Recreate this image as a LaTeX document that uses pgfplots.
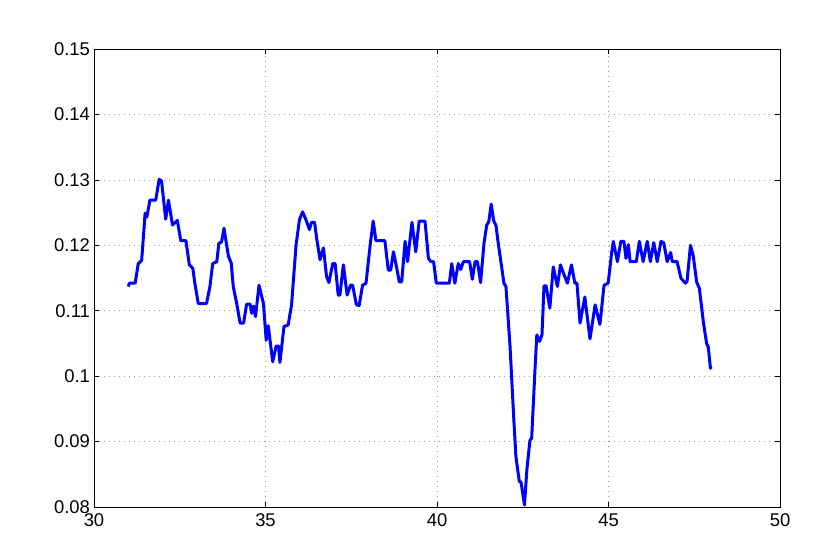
\documentclass[border=0pt]{standalone}
\usepackage{pgfplots}
\pgfplotsset{compat=1.18}
\usepackage{fontspec}
\setmainfont{Liberation Sans}
\begin{document}
\begin{tikzpicture}
\useasboundingbox (0,0) rectangle (831bp,554bp);
\begin{axis}[
  at={(94bp,47bp)}, anchor=south west,
  scale only axis, width=686bp, height=458bp,
  xmin=30, xmax=50, ymin=0.08, ymax=0.15,
  xtick={30,35,40,45,50},
  ytick={0.08,0.09,0.1,0.11,0.12,0.13,0.14,0.15},
  scaled y ticks=false,
  yticklabel style={/pgf/number format/fixed,/pgf/number format/precision=2},
  tick align=inside,
  major tick length=5bp,
  tick style={black, line width=0.6bp},
  axis line style={black, line width=0.7bp},
  grid=major,
  major grid style={gray!80, line width=0.5bp, dash pattern=on 1bp off 4bp},
  /pgf/number format/assume math mode=true,
  tick label style={font=\fontsize{18.5}{20}\selectfont},
  xticklabel style={yshift=-3bp},
  yticklabel style={xshift=-0.5bp},
]
\addplot[color={rgb,1:red,0;green,0;blue,1}, line width=3bp, line join=round, no marks] coordinates {
(31.00,0.1137)(31.03,0.1142)(31.20,0.1142)(31.29,0.1172)(31.39,0.1177)(31.49,0.1249)(31.54,0.1243)(31.63,0.1269)(31.80,0.1269)(31.90,0.1301)(31.97,0.1298)(32.09,0.1240)(32.17,0.1269)(32.29,0.1231)(32.43,0.1238)(32.53,0.1207)(32.68,0.1207)(32.78,0.1170)(32.88,0.1165)(32.94,0.1142)(33.04,0.1111)(33.28,0.1111)(33.38,0.1137)(33.46,0.1172)(33.58,0.1175)(33.64,0.1203)(33.72,0.1205)(33.79,0.1226)(33.92,0.1183)(34.00,0.1173)(34.06,0.1137)(34.16,0.1111)(34.26,0.1081)(34.36,0.1081)(34.45,0.1110)(34.55,0.1110)(34.60,0.1096)(34.65,0.1107)(34.71,0.1091)(34.81,0.1139)(34.94,0.1111)(35.02,0.1055)(35.08,0.1077)(35.21,0.1022)(35.31,0.1046)(35.38,0.1046)(35.42,0.1021)(35.54,0.1076)(35.66,0.1078)(35.76,0.1109)(35.89,0.1200)(35.99,0.1239)(36.08,0.1251)(36.18,0.1239)(36.28,0.1224)(36.34,0.1235)(36.43,0.1235)(36.49,0.1211)(36.59,0.1178)(36.69,0.1196)(36.78,0.1152)(36.85,0.1143)(36.96,0.1172)(37.03,0.1172)(37.12,0.1124)(37.17,0.1124)(37.27,0.1170)(37.38,0.1124)(37.48,0.1139)(37.54,0.1139)(37.65,0.1109)(37.73,0.1108)(37.83,0.1139)(37.93,0.1142)(38.05,0.1200)(38.14,0.1237)(38.22,0.1207)(38.48,0.1207)(38.58,0.1162)(38.65,0.1162)(38.73,0.1190)(38.83,0.1164)(38.90,0.1144)(38.97,0.1144)(39.07,0.1206)(39.14,0.1175)(39.27,0.1235)(39.38,0.1190)(39.48,0.1237)(39.65,0.1237)(39.75,0.1180)(39.82,0.1175)(39.90,0.1175)(39.98,0.1142)(40.36,0.1142)(40.43,0.1172)(40.52,0.1142)(40.62,0.1172)(40.69,0.1163)(40.77,0.1175)(40.95,0.1175)(41.03,0.1148)(41.11,0.1175)(41.18,0.1175)(41.27,0.1143)(41.37,0.1203)(41.45,0.1231)(41.51,0.1236)(41.58,0.1263)(41.65,0.1238)(41.72,0.1230)(41.78,0.1205)(41.89,0.1165)(41.95,0.1142)(42.01,0.1137)(42.13,0.1045)(42.23,0.0943)(42.30,0.0877)(42.40,0.0839)(42.45,0.0838)(42.55,0.0803)(42.62,0.0857)(42.71,0.0902)(42.76,0.0905)(42.86,0.1014)(42.91,0.1063)(42.99,0.1053)(43.06,0.1063)(43.12,0.1138)(43.18,0.1138)(43.29,0.1104)(43.39,0.1167)(43.51,0.1137)(43.60,0.1170)(43.69,0.1157)(43.80,0.1142)(43.92,0.1170)(44.02,0.1142)(44.08,0.1142)(44.17,0.1081)(44.31,0.1121)(44.46,0.1057)(44.61,0.1109)(44.75,0.1079)(44.87,0.1139)(44.99,0.1142)(45.09,0.1188)(45.14,0.1206)(45.26,0.1175)(45.36,0.1206)(45.45,0.1206)(45.51,0.1180)(45.58,0.1201)(45.63,0.1175)(45.81,0.1175)(45.90,0.1206)(46.01,0.1175)(46.13,0.1206)(46.22,0.1175)(46.32,0.1204)(46.42,0.1175)(46.53,0.1206)(46.61,0.1204)(46.71,0.1175)(46.81,0.1189)(46.86,0.1175)(47.00,0.1175)(47.11,0.1150)(47.24,0.1142)(47.29,0.1145)(47.39,0.1200)(47.47,0.1184)(47.57,0.1144)(47.65,0.1134)(47.77,0.1081)(47.86,0.1050)(47.91,0.1044)(47.97,0.1013)(48.00,0.1011)
};
\end{axis}
\end{tikzpicture}
\end{document}
